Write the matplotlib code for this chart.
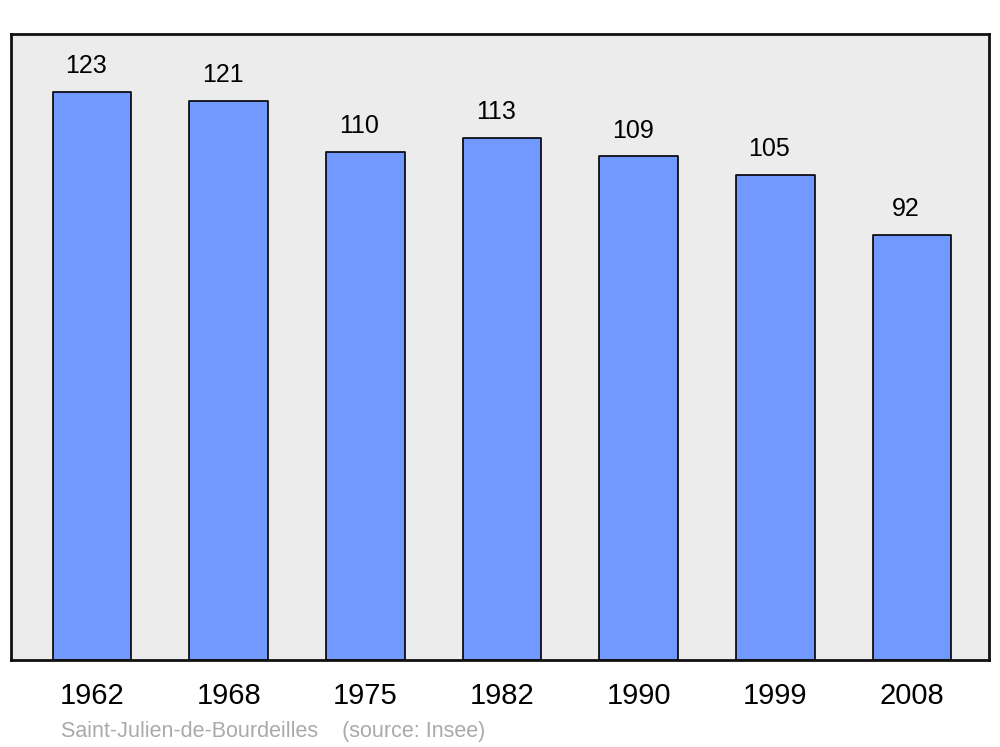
import matplotlib.pyplot as plt

plt.rcParams['font.family'] = ['Liberation Sans', 'DejaVu Sans']

years = ['1962', '1968', '1975', '1982', '1990', '1999', '2008']
population = [123, 121, 110, 113, 109, 105, 92]

fig = plt.figure(figsize=(10, 7.47), dpi=100)
ax = fig.add_axes([0.011, 1 - 660 / 747, 0.978, (660 - 34) / 747])
ax.set_facecolor('#ececec')
for s in ax.spines.values():
    s.set_linewidth(2)
    s.set_edgecolor('#111111')

x = list(range(len(years)))
ax.bar(x, population, width=0.575, color='#7299ff', edgecolor='black',
       linewidth=1.2, joinstyle='round', zorder=2)

for xi, v in zip(x, population):
    ax.annotate(str(v), (xi, v), xytext=(-4.3, 18.5), textcoords='offset points',
                ha='center', va='center', fontsize=18, color='black')

ax.set_xlim(-0.593, 6.563)
ax.set_ylim(0, 135.5)
ax.set_yticks([])
ax.set_xticks(x)
ax.set_xticklabels(years, fontsize=21)
ax.tick_params(axis='x', length=0, pad=16)

fig.text(0.061, 1 - 731 / 747, 'Saint-Julien-de-Bourdeilles    (source: Insee)',
         fontsize=15.5, color='#aaaaaa', va='center', ha='left')

plt.savefig('out.png', dpi=100)
